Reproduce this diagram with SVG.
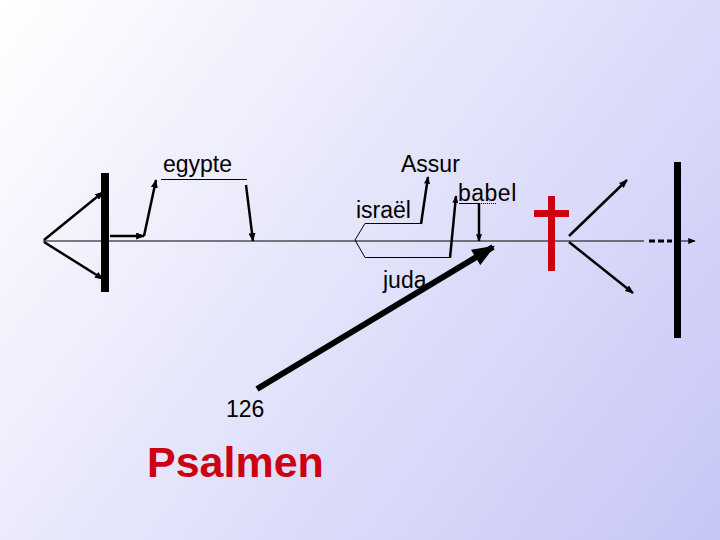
<svg xmlns="http://www.w3.org/2000/svg" width="720" height="540" viewBox="0 0 720 540">
<defs>
<linearGradient id="bg" x1="0" y1="0" x2="720" y2="540" gradientUnits="userSpaceOnUse">
<stop offset="0" stop-color="#ffffff"/>
<stop offset="1" stop-color="#c6c6f6"/>
</linearGradient>
<marker id="ah" viewBox="0 0 10 8" refX="9" refY="4" markerWidth="9" markerHeight="7" markerUnits="userSpaceOnUse" orient="auto">
<path d="M0,0 L10,4 L0,8 z" fill="#000"/>
</marker>
<marker id="ahs" viewBox="0 0 10 8" refX="9" refY="4" markerWidth="8" markerHeight="6" markerUnits="userSpaceOnUse" orient="auto">
<path d="M0,0 L10,4 L0,8 z" fill="#000"/>
</marker>
<marker id="ahbig" viewBox="0 0 10 8" refX="9" refY="4" markerWidth="24" markerHeight="18" markerUnits="userSpaceOnUse" orient="auto">
<path d="M0,0 L10,4 L0,8 z" fill="#000"/>
</marker>
<style>
.t{font-family:"Liberation Sans",Arial,sans-serif;font-size:23px;fill:#000}
.thin{stroke:#000;stroke-width:1;fill:none}
.mid{stroke:#000;stroke-width:2.5;fill:none}
.bar{fill:#000}
.red{fill:#cc0011}
</style>
</defs>
<rect width="720" height="540" fill="url(#bg)"/>

<g id="connectors">
<line class="thin" x1="43" y1="241" x2="644" y2="241" stroke-width="1.5"/>
<line class="mid" x1="44" y1="240" x2="103" y2="192" marker-end="url(#ah)"/>
<line class="mid" x1="44" y1="242" x2="103" y2="279" marker-end="url(#ah)"/>
<polyline class="mid" points="110,236 144,236" marker-end="url(#ah)"/>
<polyline class="mid" points="144,236 156,180" marker-end="url(#ah)"/>
<line class="thin" x1="161" y1="179.5" x2="247" y2="179.5"/>
<line class="mid" x1="246" y1="185" x2="253" y2="241" marker-end="url(#ah)"/>
<polyline class="thin" points="421,223.5 365,223.5 355,240 365,257.5 450,257.5"/>
<polyline class="mid" points="421,224 428,177" marker-end="url(#ahs)"/>
<polyline class="mid" points="450,258 456,196" marker-end="url(#ahs)"/>
<polyline class="thin" points="459,203.5 479,203.5" stroke-width="1.5"/>
<line class="thin" x1="479" y1="203.5" x2="496" y2="203.5" stroke-dasharray="1 1" stroke="#555"/>
<line class="mid" x1="479" y1="203" x2="479" y2="241" stroke-width="2" marker-end="url(#ahs)"/>
<line x1="257" y1="389" x2="493" y2="247" stroke="#000" stroke-width="6" marker-end="url(#ahbig)"/>
<line class="mid" x1="569" y1="236" x2="627" y2="180" marker-end="url(#ah)"/>
<line class="mid" x1="569" y1="242" x2="633" y2="293" marker-end="url(#ah)"/>
<line x1="649" y1="241" x2="672" y2="241" stroke="#000" stroke-width="3" stroke-dasharray="6 3"/>
<line class="thin" x1="676" y1="241" x2="695" y2="241" stroke-width="1.5" marker-end="url(#ahs)"/>
</g>

<g id="left-bar"><rect class="bar" x="101" y="173" width="8" height="119"/></g>
<g id="right-bar"><rect class="bar" x="674" y="162" width="7" height="176"/></g>
<g id="cross">
<rect class="red" x="548" y="196" width="7" height="75"/>
<rect class="red" x="534" y="210" width="35" height="7"/>
</g>

<g id="egypte"><text class="t" x="163" y="172" font-size="23">egypte</text></g>
<g id="assur"><text class="t" x="401" y="172">Assur</text></g>
<g id="israel"><text class="t" x="356" y="218">israël</text></g>
<g id="babel"><text class="t" x="458" y="201" letter-spacing="0.5">babel</text></g>
<g id="juda"><text class="t" x="383" y="288">juda</text></g>
<g id="n126"><text class="t" x="226" y="417" font-size="24">126</text></g>
<g id="psalmen"><text x="147" y="477" font-family="'Liberation Sans',Arial,sans-serif" font-size="43" font-weight="bold" fill="#cc0011">Psalmen</text></g>
</svg>
